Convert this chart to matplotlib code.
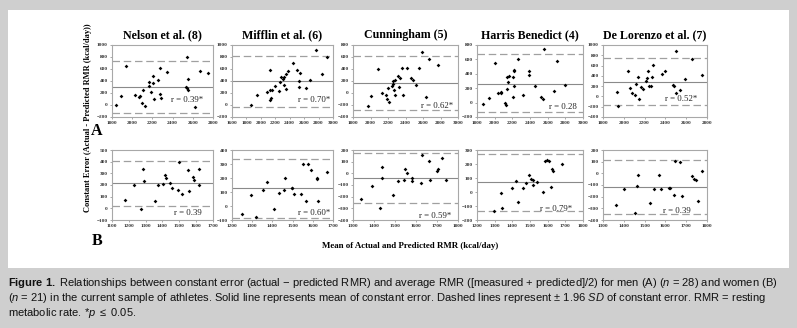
import matplotlib.pyplot as plt
from matplotlib.patches import Rectangle

plt.rcParams['font.family'] = ['Liberation Serif', 'DejaVu Serif']
plt.rcParams['mathtext.fontset'] = 'custom'
plt.rcParams['mathtext.rm'] = 'Liberation Sans'
plt.rcParams['mathtext.it'] = 'Liberation Sans:italic'
plt.rcParams['mathtext.bf'] = 'Liberation Sans:bold'

titles = ["Nelson et al. (8)", "Mifflin et al. (6)", "Cunningham (5)",
          "Harris Benedict (4)", "De Lorenzo et al. (7)"]

# men (A): mean RMR vs constant error
men_x = [
    [1842, 1891, 1937, 2025, 2071, 2074, 2107, 2097, 2124, 2163, 2169, 2186, 2205, 2202,
     2212, 2254, 2271, 2277, 2281, 2349, 2529, 2538, 2548, 2539, 2552, 2621, 2676, 2754],
    [1863, 1947, 2085, 2122, 2127, 2141, 2131, 2191, 2247, 2261, 2284, 2316, 2325, 2349,
     2349, 2376, 2446, 2506, 2543, 2533, 2533, 2630, 2677, 2765, 2843, 2922, 2300, 2160],
    [1975, 2010, 2082, 2128, 2173, 2185, 2204, 2208, 2253, 2261, 2284, 2272, 2280, 2310,
     2326, 2341, 2364, 2368, 2421, 2459, 2482, 2520, 2550, 2592, 2638, 2669, 2775, 2240],
    [1864, 1932, 2000, 2038, 2068, 2072, 2117, 2125, 2136, 2143, 2147, 2166, 2211, 2223,
     2219, 2219, 2204, 2260, 2317, 2389, 2392, 2457, 2528, 2547, 2555, 2706, 2668, 2800],
    [1935, 1947, 2037, 2063, 2082, 2111, 2120, 2140, 2149, 2163, 2185, 2210, 2223, 2233,
     2246, 2265, 2272, 2278, 2367, 2394, 2473, 2480, 2502, 2505, 2537, 2592, 2659, 2755],
]
men_y = [
    [5, 143, 655, 165, 138, 154, 253, 33, -17, 325, 385, 215, 369, 490,
     94, 424, 611, 187, 116, 550, 303, 281, 242, 803, 440, -33, 561, 528],
    [6, 160, 221, 243, 586, 122, 83, 315, 232, 381, 459, 459, 337, 271,
     525, 569, 707, 580, 530, 392, 304, 276, 420, 917, 519, 807, 440, 250],
    [-214, -51, 402, -7, -34, -105, 91, -149, 151, 200, 217, 47, -40, 288,
     102, 249, 418, -34, 412, 249, 217, 135, 423, 691, -73, 570, 472, 120],
    [-23, 70, 553, 140, 153, 140, -9, -28, 195, 358, 288, 372, 353, 456,
     437, 233, 84, 609, 102, 377, 442, 233, 74, 56, 749, 581, 167, 251],
    [82, -178, 485, 173, 63, 24, 238, 387, -48, 193, 141, 303, 355, 491,
     206, 199, 381, 608, 433, 485, 225, 206, 63, 876, 121, 336, 720, 414],
]
men_mean = [303, 400, 162, 265, 290]
men_upper = [726, 815, 620, 670, 739]
men_lower = [-127, -25, -291, -135, -172]
men_r = ["r = 0.39*", "r = 0.70*", "r = 0.62*", "r = 0.28", "r = 0.52*"]
men_xlim = [(1800, 2800), (1600, 3000), (1800, 3000), (1800, 3000), (1800, 2800)]
men_ylim = [(-200, 1000), (-200, 1000), (-400, 800), (-200, 800), (-400, 1000)]

# women (B)
women_x = [
    [1178, 1229, 1285, 1289, 1275, 1357, 1375, 1404, 1416, 1421, 1443, 1458, 1495, 1499,
     1513, 1550, 1560, 1583, 1587, 1614, 1616],
    [1249, 1295, 1320, 1354, 1374, 1408, 1434, 1456, 1462, 1495, 1498, 1508, 1541, 1551,
     1566, 1577, 1593, 1620, 1621, 1626, 1670],
    [1338, 1392, 1430, 1439, 1438, 1491, 1515, 1542, 1546, 1558, 1582, 1582, 1623, 1628,
     1664, 1668, 1702, 1706, 1723, 1741],
    [1294, 1336, 1342, 1396, 1419, 1432, 1462, 1475, 1496, 1508, 1515, 1517, 1542, 1575,
     1583, 1596, 1608, 1619, 1626, 1628, 1679],
    [1361, 1403, 1455, 1463, 1470, 1528, 1545, 1568, 1579, 1619, 1623, 1641, 1647, 1670,
     1678, 1726, 1736, 1747, 1758, 1776],
]
women_y = [
    [73, 196, 338, 232, -5, 65, 204, 210, 285, 263, 218, 171, 160, 400,
     126, 327, 151, 271, 240, 336, 202],
    [-58, 77, -79, 114, 174, -21, 91, 114, 198, 130, 128, 84, 84, 302,
     37, 300, 256, 191, 200, 35, 244],
    [-223, -107, -293, 54, -42, -186, -65, -54, 34, 0, -42, -68, -82, 155,
     107, -54, 20, 37, 130, -56],
    [-136, -9, -111, 30, 80, -73, 32, 64, 118, 93, 84, 50, 68, 0,
     220, 230, 218, 34, 161, 152, 202],
    [-269, -135, -340, -105, -16, -253, -135, -16, -135, -128, -128, -185, 102, 96,
     -193, -21, -46, -59, -234, 17],
]
women_mean = [213, 126, -42, 73, -116]
women_upper = [402, 333, 177, 275, 115]
women_lower = [20, -86, -256, -136, -345]
women_r = ["r = 0.39", "r = 0.60*", "r = 0.59*", "r = 0.79*", "r = 0.39"]
women_xlim = [(1100, 1700), (1200, 1700), (1300, 1800), (1200, 1800), (1300, 1800)]
women_ylim = [(-100, 500), (-100, 400), (-400, 200), (-200, 300), (-400, 200)]

W, H = 797, 328
fig = plt.figure(figsize=(W / 100, H / 100), dpi=100)
fig.patch.set_facecolor('#cfcfcf')
fig.patches.append(Rectangle((8 / W, 1 - 268 / H), 781 / W, 258 / H,
                             transform=fig.transFigure, facecolor='white',
                             edgecolor='none', zorder=-5))

cols = [(112, 213), (232, 333), (353, 458), (477, 583), (603, 707)]
men_rpos = [(0.90, 0.24), (0.97, 0.24), (0.95, 0.15), (0.94, 0.14), (0.91, 0.25)]
women_rpos = [(0.89, 0.10), (0.97, 0.10), (0.94, 0.06), (0.90, 0.16), (0.84, 0.13)]


def panel(rect, xs, ys, mean, up, lo, rtxt, rpos, xlim, ylim, xstep, ystep):
    ax = fig.add_axes(rect)
    ax.set_facecolor('white')
    ax.axhline(mean, color='#8a8a8a', lw=0.8, zorder=1)
    ax.axhline(up, color='#a0a0a0', lw=0.9, dashes=(6, 3), zorder=1)
    ax.axhline(lo, color='#a0a0a0', lw=0.9, dashes=(6, 3), zorder=1)
    ax.plot(xs, ys, 'D', color='black', ms=1.9, mew=0, zorder=3)
    ax.set_xlim(*xlim)
    ax.set_ylim(*ylim)
    ax.set_xticks(range(xlim[0], xlim[1] + 1, xstep))
    ax.set_yticks(range(ylim[0], ylim[1] + 1, ystep))
    ax.tick_params(labelsize=3.8, length=1.5, width=0.5, color='#888888', pad=1.5)
    for lab in ax.get_xticklabels() + ax.get_yticklabels():
        lab.set_fontweight('bold')
        lab.set_color('#333333')
    for s in ax.spines.values():
        s.set_color('#a8a8a8')
        s.set_linewidth(0.8)
    ax.text(rpos[0], rpos[1], rtxt, transform=ax.transAxes, ha='right', va='center',
            fontsize=6.3, color='#222222')
    return ax


for i in range(5):
    x0, x1 = cols[i]
    ax = panel([x0 / W, 1 - 117 / H, (x1 - x0) / W, 72 / H], men_x[i], men_y[i],
               men_mean[i], men_upper[i], men_lower[i], men_r[i], men_rpos[i],
               men_xlim[i], men_ylim[i], 200, 200)
    ax.set_title(titles[i], fontsize=8.6, fontweight='bold', pad=5)
    panel([x0 / W, 1 - 220 / H, (x1 - x0) / W, 70 / H], women_x[i], women_y[i],
          women_mean[i], women_upper[i], women_lower[i], women_r[i], women_rpos[i],
          women_xlim[i], women_ylim[i], 100, 100)

fig.text(88 / W, 1 - 118 / H, "Constant Error (Actual - Predicted RMR (kcal/day))",
         rotation=90, ha='center', va='center', fontsize=6, fontweight='bold')
fig.text(410 / W, 1 - 246 / H, "Mean of Actual and Predicted RMR (kcal/day)",
         ha='center', va='center', fontsize=6.4, fontweight='bold')
fig.text(97 / W, 1 - 131 / H, "A", ha='center', va='center', fontsize=11.5, fontweight='bold')
fig.text(97 / W, 1 - 241 / H, "B", ha='center', va='center', fontsize=11.5, fontweight='bold')

caption = [
    r"$\mathbf{Figure\ 1.}$ Relationships between constant error (actual $-$ predicted RMR) and average RMR ([measured + predicted]/2) for men (A) ($\mathit{n}$ = 28) and women (B)",
    r"($\mathit{n}$ = 21) in the current sample of athletes. Solid line represents mean of constant error. Dashed lines represent $\pm$ 1.96 $\mathit{SD}$ of constant error. RMR = resting",
    r"metabolic rate. *$\mathit{p}$ $\leq$ 0.05.",
]
for k, line in enumerate(caption):
    fig.text(8 / W, 1 - (283 + 15 * k) / H, line, ha='left', va='center',
             fontsize=8.0, family=['Liberation Sans', 'DejaVu Sans'],
             color='#111111')

fig.savefig('out.png', dpi=100, facecolor=fig.get_facecolor())
